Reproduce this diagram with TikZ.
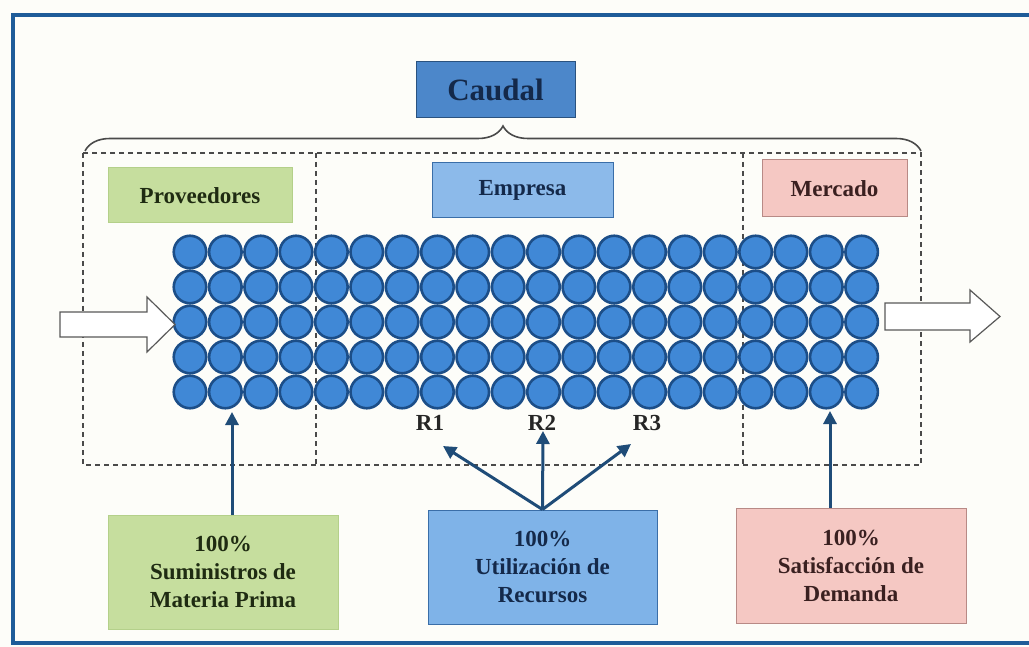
\documentclass[tikz,border=0pt]{standalone}
\usepackage{fontspec}
\setmainfont{Liberation Serif}
\usetikzlibrary{arrows.meta,decorations.pathreplacing,calc}
\definecolor{bgc}{HTML}{FDFDF9}
\definecolor{framec}{HTML}{1F5C99}
\definecolor{caudalfill}{HTML}{4C87CA}
\definecolor{caudalline}{HTML}{2A527F}
\definecolor{navy}{HTML}{14294A}
\definecolor{greenfill}{HTML}{C6DE9E}
\definecolor{greenline}{HTML}{B4D08A}
\definecolor{greentext}{HTML}{1F2B12}
\definecolor{bluefill}{HTML}{8CBAEA}
\definecolor{utilfill}{HTML}{7FB3E8}
\definecolor{blueline}{HTML}{3A6EA8}
\definecolor{pinkfill}{HTML}{F5C8C3}
\definecolor{pinkline}{HTML}{B88A86}
\definecolor{browntext}{HTML}{3A2020}
\definecolor{ballfill}{HTML}{4088D6}
\definecolor{ballline}{HTML}{1C4E88}
\definecolor{arrc}{HTML}{1F4C78}
\definecolor{dashc}{HTML}{4A4A4A}
\tikzset{
  txt/.style={font=\bfseries\fontsize{23}{28}\selectfont},
  box/.style={txt, draw, line width=1pt, inner sep=0pt, align=center},
  ball/.style={circle, draw=ballline, fill=ballfill, line width=2.6pt, minimum size=32.5pt, inner sep=0pt},
  flowarr/.style={draw=arrc, line width=3pt, -{Triangle[length=13pt,width=13pt]}},
  dashbox/.style={draw=dashc, line width=1.3pt, dash pattern=on 5pt off 4pt},
  blockarrow/.style={draw=black!65, fill=white, line width=1.2pt, line join=miter},
  rlabel/.style={txt, text=black!85, inner sep=1pt}
}
\begin{document}
\begin{tikzpicture}[x=1pt,y=-1pt]
\fill[bgc] (0,0) rectangle (1029,647);
\useasboundingbox (0,0) rectangle (1029,647);
% frame
\draw[framec, line width=3.5pt] (1040,15) -- (13,15) -- (13,643) -- (1040,643);
% Caudal
\node[box, draw=caudalline, fill=caudalfill, text=navy, minimum width=159pt, minimum height=56pt,
      font=\bfseries\fontsize{31}{36}\selectfont] (caudal) at (495.5,90) {Caudal};
% brace
\draw[dashc, line width=1.6pt, decorate, decoration={brace, amplitude=25pt}] (85,151) -- (921,151);
% dashed regions
\draw[dashbox] (83,153) rectangle (921,465);
\draw[dashbox] (316,153) -- (316,465);
\draw[dashbox] (743,153) -- (743,465);
% headers
\node[box, draw=greenline, fill=greenfill, text=greentext, minimum width=184pt, minimum height=55pt] (prov) at (200,195.5) {Proveedores};
\node[box, draw=blueline, fill=bluefill, text=navy, minimum width=181pt, minimum height=55pt] (emp) at (522.5,190) {Empresa};
\node[box, draw=pinkline, fill=pinkfill, text=browntext, minimum width=145pt, minimum height=57pt] (merc) at (834.5,188.5) {Mercado};
% circles
\foreach \i in {0,...,4}{
  \foreach \j in {0,...,19}{
    \node[ball] (c-\i-\j) at ({190+35.35*\j},{252+35*\i}) {};
  }
}
% block arrows
\draw[blockarrow] (60,312) -- (147,312) -- (147,297) -- (175,324.5) -- (147,352) -- (147,337) -- (60,337) -- cycle;
\draw[blockarrow] (885,303) -- (970,303) -- (970,290) -- (1000,316.5) -- (970,342) -- (970,330) -- (885,330) -- cycle;
% R labels
\node[rlabel] (R1) at (430,423) {R1};
\node[rlabel] (R2) at (542,423) {R2};
\node[rlabel] (R3) at (647,423) {R3};
% bottom boxes
\node[box, draw=greenline, fill=greenfill, text=greentext, minimum width=230pt, minimum height=114pt] (sum) at (223,572) {100\%\\Suministros de\\Materia Prima};
\node[box, draw=blueline, fill=utilfill, text=navy, minimum width=229pt, minimum height=114pt] (util) at (542.5,567) {100\%\\Utilización de\\Recursos};
\node[box, draw=pinkline, fill=pinkfill, text=browntext, minimum width=230pt, minimum height=115pt] (sat) at (851,565.5) {100\%\\Satisfacción de\\Demanda};
% arrow targets
\coordinate (tsum) at (232,412);
\coordinate (tsat) at (830,411);
\coordinate (t1) at (443,446);
\coordinate (t2) at (543,431);
\coordinate (t3) at (631,444);
\draw[flowarr] (sum.north -| tsum) -- (tsum);
\draw[flowarr] (sat.north -| tsat) -- (tsat);
\draw[flowarr] (util.north) -- (t1);
\draw[flowarr] (util.north) -- (t2);
\draw[flowarr] (util.north) -- (t3);
\end{tikzpicture}
\end{document}
